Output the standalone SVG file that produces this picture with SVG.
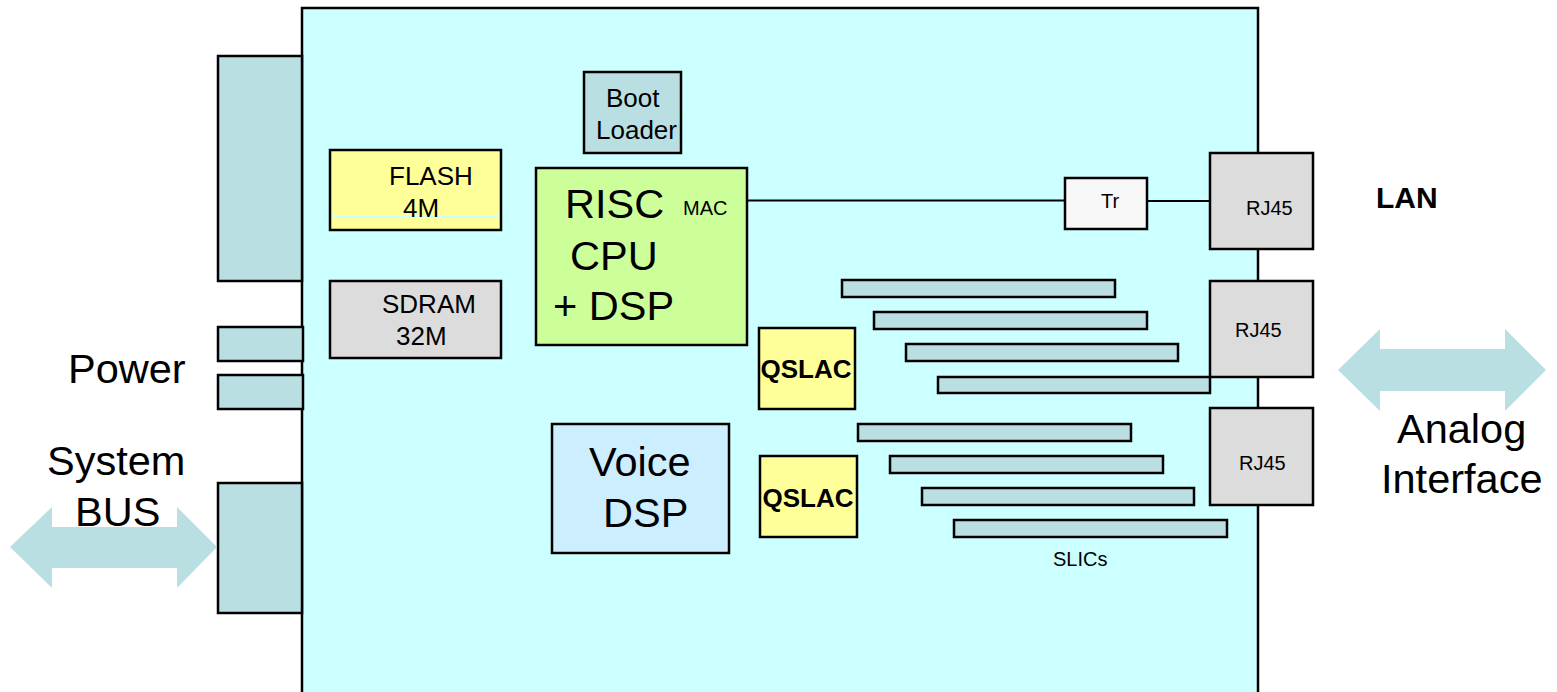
<svg xmlns="http://www.w3.org/2000/svg" width="1557" height="692" viewBox="0 0 1557 692">
<style>
.b{stroke:#000;stroke-width:2.5}
.conn{fill:#b9dfe2}
.gray{fill:#dcdcdc}
.yel{fill:#ffff99}
.t{font-family:"Liberation Sans",Arial,sans-serif;fill:#000}
.big{font-size:41.5px}
.mid{font-size:26px}
.sm{font-size:20px}
.arrow{fill:#b9dfe2;stroke:none}
</style>
<rect width="1557" height="692" fill="#fff"/>
<g id="board"><rect class="b" x="302" y="8" width="956" height="690" fill="#ccffff"/></g>
<g id="left-connector-top"><rect class="b conn" x="218" y="56" width="84" height="225"/></g>
<g id="power-connector-1"><rect class="b conn" x="218" y="327" width="85" height="34"/></g>
<g id="power-connector-2"><rect class="b conn" x="218" y="375" width="85" height="34"/></g>
<g id="bus-connector"><rect class="b conn" x="218" y="483" width="84" height="130"/></g>
<g id="flash">
<rect class="b yel" x="330" y="150" width="171" height="80"/>
<line x1="332" y1="216.5" x2="499" y2="216.5" stroke="#ccffff" stroke-width="1"/>
<text class="t mid" x="389" y="185">FLASH</text>
<text class="t mid" x="403" y="217">4M</text>
</g>
<g id="sdram">
<rect class="b gray" x="330" y="281" width="171" height="77"/>
<text class="t mid" x="382" y="313">SDRAM</text>
<text class="t mid" x="396" y="345">32M</text>
</g>
<g id="boot-loader">
<rect class="b conn" x="584" y="72" width="97" height="81"/>
<text class="t mid" x="606" y="107">Boot</text>
<text class="t mid" x="596" y="139">Loader</text>
</g>
<g id="risc-cpu">
<rect class="b" x="536" y="168" width="211" height="177" fill="#ccff99"/>
<text class="t big" x="565" y="218">RISC</text>
<text class="t big" x="570" y="270">CPU</text>
<text class="t big" x="553" y="320">+ DSP</text>
<text class="t sm" x="683" y="215">MAC</text>
</g>
<g id="connectors">
<line x1="747" y1="200.5" x2="1065" y2="200.5" stroke="#000" stroke-width="2.2"/>
<line x1="1147" y1="201" x2="1210" y2="201" stroke="#000" stroke-width="2.2"/>
</g>
<g id="tr">
<rect class="b" x="1065" y="178" width="82" height="51" fill="#f8f8f8"/>
<text class="t sm" x="1101" y="208">Tr</text>
</g>
<g id="rj45-1">
<rect class="b gray" x="1210" y="153" width="103" height="96"/>
<text class="t sm" x="1246" y="215">RJ45</text>
</g>
<g id="slics">
<rect class="b conn" x="842" y="280" width="273" height="17"/>
<rect class="b conn" x="874" y="312" width="273" height="17"/>
<rect class="b conn" x="906" y="344" width="272" height="17"/>
<rect class="b conn" x="938" y="377" width="272" height="16"/>
<rect class="b conn" x="858" y="424" width="273" height="17"/>
<rect class="b conn" x="890" y="456" width="273" height="17"/>
<rect class="b conn" x="922" y="488" width="272" height="17"/>
<rect class="b conn" x="954" y="520" width="273" height="17"/>
<text class="t sm" x="1053" y="566">SLICs</text>
</g>
<g id="rj45-2">
<rect class="b gray" x="1210" y="281" width="103" height="96"/>
<text class="t sm" x="1235" y="337">RJ45</text>
</g>
<g id="rj45-3">
<rect class="b gray" x="1210" y="408" width="103" height="97"/>
<text class="t sm" x="1239" y="470">RJ45</text>
</g>
<g id="qslac-1">
<rect class="b yel" x="759" y="328" width="96" height="81"/>
<text class="t mid" x="806" y="378" font-weight="bold" text-anchor="middle">QSLAC</text>
</g>
<g id="qslac-2">
<rect class="b yel" x="760" y="456" width="97" height="81"/>
<text class="t mid" x="808" y="507" font-weight="bold" text-anchor="middle">QSLAC</text>
</g>
<g id="voice-dsp">
<rect class="b" x="552" y="424" width="177" height="129" fill="#cceeff"/>
<text class="t big" x="589" y="476">Voice</text>
<text class="t big" x="603" y="527">DSP</text>
</g>
<g id="system-bus-arrow">
<polygon class="arrow" points="10,547 52,507 52,527 177,527 177,507 217,547 177,588 177,568 52,568 52,588"/>
</g>
<g id="analog-arrow">
<polygon class="arrow" points="1338,370 1380,329 1380,349 1505,349 1505,329 1546,370 1505,411 1505,391 1380,391 1380,411"/>
</g>
<g id="labels">
<text class="t big" x="68" y="383">Power</text>
<text class="t big" x="47" y="475">System</text>
<text class="t big" x="75" y="526">BUS</text>
<text class="t" x="1376" y="208" font-size="30" font-weight="bold">LAN</text>
<text class="t big" x="1397" y="443">Analog</text>
<text class="t big" x="1381" y="493">Interface</text>
</g>
</svg>
